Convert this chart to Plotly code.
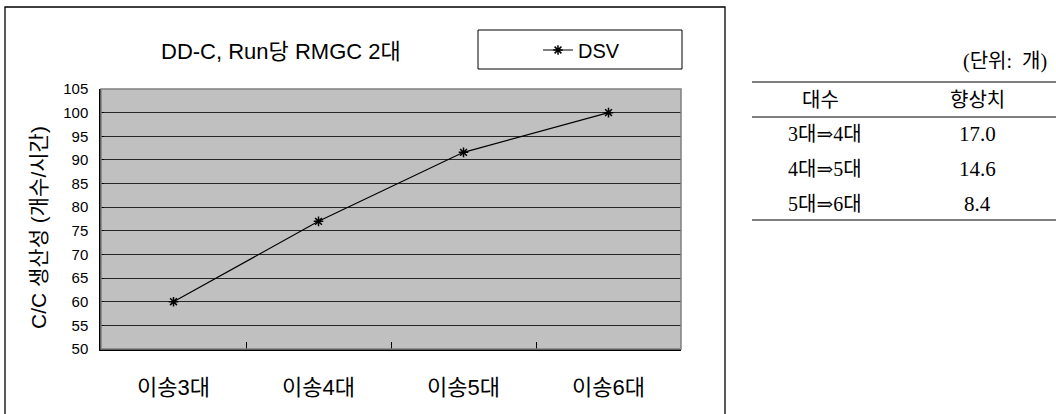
import plotly.graph_objects as go

# Data
categories = ["이송3대", "이송4대", "이송5대", "이송6대"]
dsv_values = [60.0, 77.0, 91.6, 100.0]
y_ticks = [50, 55, 60, 65, 70, 75, 80, 85, 90, 95, 100, 105]

table_head = ["대수", "향상치"]
table_steps = ["3대⇒4대", "4대⇒5대", "5대⇒6대"]
table_gains = ["17.0", "14.6", "8.4"]

W, H = 1056, 414
PL, PR, PT, PB = 101, 681, 89, 349  # plot area in pixels


def px(x):
    return (x - PL) / (PR - PL)


def py(y):
    return (PB - y) / (PB - PT)


SANS = "Liberation Sans, Noto Sans CJK KR, sans-serif"
NARROW = "Liberation Sans Narrow, Liberation Sans, sans-serif"
SERIF = "Liberation Serif, DejaVu Serif, Noto Sans CJK KR, serif"

fig = go.Figure()
fig.add_trace(go.Scatter(
    x=categories, y=dsv_values, mode="lines+markers", name="DSV",
    line=dict(color="black", width=1.1),
    marker=dict(symbol="asterisk-open", size=8, color="black",
                line=dict(color="black", width=1.5)),
))

shapes = [
    # outer chart frame
    dict(type="rect", xref="paper", yref="paper", x0=px(5), x1=px(725), y0=py(430), y1=py(7),
         line=dict(color="black", width=1.3), fillcolor="rgba(0,0,0,0)", layer="below"),
    # plot area border (gray)
    dict(type="rect", xref="paper", yref="paper", x0=0, x1=1, y0=0, y1=1,
         line=dict(color="#808080", width=1.5), fillcolor="rgba(0,0,0,0)", layer="above"),
    # legend box
    dict(type="rect", xref="paper", yref="paper", x0=px(478), x1=px(682), y0=py(69), y1=py(30),
         line=dict(color="black", width=1), fillcolor="white"),
]

# table rules
for yy in (82, 117, 220):
    shapes.append(dict(type="line", xref="paper", yref="paper", x0=px(752), x1=px(1056),
                       y0=py(yy), y1=py(yy), line=dict(color="black", width=1.2)))

annotations = [
    dict(text="DD-C, Run당 RMGC 2대", x=px(281), y=py(51), xref="paper", yref="paper",
         showarrow=False, font=dict(family=SANS, size=22, color="black"),
         xanchor="center", yanchor="middle"),
    dict(text="C/C 생산성 (개수/시간)", x=px(38), y=py(228), xref="paper", yref="paper",
         showarrow=False, textangle=-90, font=dict(family=SANS, size=21, color="black"),
         xanchor="center", yanchor="middle"),
    dict(text="(단위:  개)", x=px(1049), y=py(62), xref="paper", yref="paper",
         showarrow=False, font=dict(family=SERIF, size=20, color="black"),
         xanchor="right", yanchor="middle"),
]

col_x = [820, 977]
row_y = [100, 134, 169, 204]
for cx, txt in zip(col_x, table_head):
    annotations.append(dict(text=txt, x=px(cx), y=py(row_y[0]), xref="paper", yref="paper",
                            showarrow=False, font=dict(family=SERIF, size=20, color="black"),
                            xanchor="center", yanchor="middle"))
for ry, step, gain in zip(row_y[1:], table_steps, table_gains):
    annotations.append(dict(text=step, x=px(825), y=py(ry), xref="paper", yref="paper",
                            showarrow=False, font=dict(family=SERIF, size=20, color="black"),
                            xanchor="center", yanchor="middle"))
    annotations.append(dict(text=gain, x=px(977), y=py(ry), xref="paper", yref="paper",
                            showarrow=False, font=dict(family=SERIF, size=21, color="black"),
                            xanchor="center", yanchor="middle"))

fig.update_layout(
    width=W, height=H,
    margin=dict(l=PL, r=W - PR, t=PT, b=H - PB, pad=0),
    paper_bgcolor="white", plot_bgcolor="#C0C0C0",
    showlegend=True,
    legend=dict(x=px(538), y=py(50), xanchor="left", yanchor="middle",
                bgcolor="rgba(0,0,0,0)", borderwidth=0,
                font=dict(family=SANS, size=20, color="black"),
                itemwidth=30),
    xaxis=dict(type="category", showgrid=False, showline=True, linecolor="black", linewidth=1.5,
               ticks="inside", tickson="boundaries", ticklen=7, tickcolor="black",
               tickfont=dict(family=SANS, size=22, color="black"), ticklabelstandoff=18,
               zeroline=False, range=[-0.5, 3.5]),
    yaxis=dict(range=[50, 105], tickvals=y_ticks, showgrid=True, gridcolor="#262626",
               gridwidth=1, showline=True, linecolor="black", linewidth=1.5,
               ticks="inside", ticklen=3, tickcolor="black",
               tickfont=dict(family=NARROW, size=15, color="black"),
               ticklabelstandoff=8, zeroline=False),
    shapes=shapes,
    annotations=annotations,
)

fig.write_html("out.html")
